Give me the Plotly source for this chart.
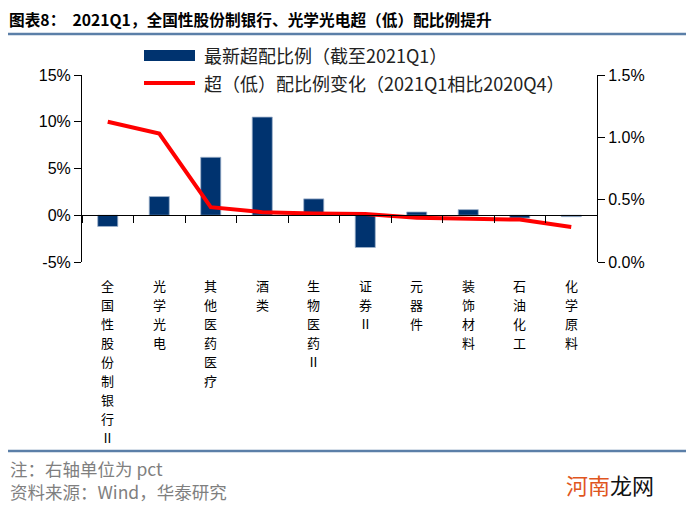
import plotly.graph_objects as go

categories = ["全国性股份制银行Ⅱ", "光学光电", "其他医药医疗", "酒类", "生物医药Ⅱ",
              "证券Ⅱ", "元器件", "装饰材料", "石油化工", "化学原料"]
overweight_2021q1 = [-1.2, 2.0, 6.2, 10.5, 1.75, -3.45, 0.35, 0.6, -0.3, -0.15]
change_vs_2020q4 = [1.125, 1.03, 0.44, 0.40, 0.39, 0.385, 0.355, 0.35, 0.34, 0.28]
left_ticks = [-5, 0, 5, 10, 15]
left_ticktext = ["-5%", "0%", "5%", "10%", "15%"]
right_ticks = [0.0, 0.5, 1.0, 1.5]
right_ticktext = ["0.0%", "0.5%", "1.0%", "1.5%"]

bar_name = "最新超配比例（截至2021Q1）"
line_name = "超（低）配比例变化（2021Q1相比2020Q4）"
title_text = "图表8：  2021Q1，全国性股份制银行、光学光电超（低）配比例提升"
note1 = "注：右轴单位为 pct"
note2 = "资料来源：Wind，华泰研究"

# the page body has an 8px margin, so the figure is 8px smaller and offset
OFF = 8
W, H = 699 - OFF, 518 - OFF
L, R, T, B = 82 - OFF, 102, 75 - OFF, 256
pw, ph = W - L - R, H - T - B


def px(x):
    return (x - OFF - L) / pw


def py(y):
    return (H - B - (y - OFF)) / ph


CJK = "Noto Sans CJK SC"
NUM = "Liberation Sans, Arial, sans-serif"
BAR_C = "#00336F"
LINE_C = "#FF0000"

fig = go.Figure()
fig.add_trace(go.Bar(x=categories, y=overweight_2021q1, name=bar_name,
                     marker=dict(color=BAR_C, line=dict(color="#9FB3CC", width=0.8)),
                     yaxis="y", showlegend=False))
fig.add_trace(go.Scatter(x=categories, y=change_vs_2020q4, name=line_name, mode="lines",
                         line=dict(color=LINE_C, width=4), yaxis="y2", showlegend=False))

fig.update_layout(
    width=W, height=H, autosize=False,
    margin=dict(l=L, r=R, t=T, b=B, autoexpand=False),
    paper_bgcolor="white", plot_bgcolor="white",
    bargap=0.61,
    showlegend=False,
    xaxis=dict(type="category", categoryorder="array", categoryarray=categories,
               anchor="free", position=0.25, automargin=False,
               showline=True, linecolor="#000000", linewidth=1,
               ticks="outside", ticklen=7, tickcolor="#000000", tickson="boundaries",
               showticklabels=False,
               showgrid=False, zeroline=False, fixedrange=True),
    yaxis=dict(range=[-5, 15], tickmode="array", tickvals=left_ticks, ticktext=left_ticktext,
               automargin=False,
               showline=True, linecolor="#000000", linewidth=1,
               ticks="outside", ticklen=7, tickcolor="#000000",
               tickfont=dict(family=NUM, size=16, color="#000000"),
               showgrid=False, zeroline=False),
    yaxis2=dict(range=[0, 1.5], tickmode="array", tickvals=right_ticks, ticktext=right_ticktext,
                overlaying="y", side="right", automargin=False,
                showline=True, linecolor="#000000", linewidth=1,
                ticks="outside", ticklen=7, tickcolor="#000000",
                tickfont=dict(family=NUM, size=16, color="#000000"),
                showgrid=False, zeroline=False),
)

shapes = [
    dict(type="line", xref="paper", yref="paper", x0=px(8), x1=px(686), y0=py(34), y1=py(34),
         line=dict(color="#5B7FA8", width=2.5)),
    dict(type="line", xref="paper", yref="paper", x0=px(8), x1=px(686), y0=py(451), y1=py(451),
         line=dict(color="#5B7FA8", width=2.5)),
    dict(type="rect", xref="paper", yref="paper", x0=px(144), x1=px(195), y0=py(61), y1=py(50),
         fillcolor=BAR_C, line=dict(width=0)),
    dict(type="line", xref="paper", yref="paper", x0=px(144), x1=px(195), y0=py(83), y1=py(83),
         line=dict(color=LINE_C, width=4)),
]

annotations = [
    dict(text="<b>" + title_text + "</b>", xref="paper", yref="paper", x=px(7), y=py(19.8),
         xanchor="left", yanchor="middle", showarrow=False,
         font=dict(family=CJK, size=15.7, color="#000000")),
    dict(text=bar_name, xref="paper", yref="paper", x=px(202), y=py(55),
         xanchor="left", yanchor="middle", showarrow=False,
         font=dict(family=CJK, size=18, color="#222222")),
    dict(text=line_name, xref="paper", yref="paper", x=px(202), y=py(83),
         xanchor="left", yanchor="middle", showarrow=False,
         font=dict(family=CJK, size=18, color="#222222")),
    dict(text=note1, xref="paper", yref="paper", x=px(8), y=py(468),
         xanchor="left", yanchor="middle", showarrow=False,
         font=dict(family=CJK, size=17.5, color="#7F7F7F")),
    dict(text=note2, xref="paper", yref="paper", x=px(8), y=py(491),
         xanchor="left", yanchor="middle", showarrow=False,
         font=dict(family=CJK, size=17.5, color="#7F7F7F")),
    dict(text="<span style='color:#E0561E'>河南</span>龙网", xref="paper", yref="paper",
         x=px(564), y=py(484), xanchor="left", yanchor="middle", showarrow=False,
         font=dict(family=CJK, size=22, color="#111111")),
]

# vertical category labels, one character per line
for cat in categories:
    for i, ch in enumerate(cat):
        annotations.append(dict(text=ch, xref="x", yref="paper", x=cat, y=py(285 + 19 * i),
                                xanchor="center", yanchor="middle", showarrow=False,
                                font=dict(family=CJK, size=13, color="#000000")))

fig.update_layout(shapes=shapes, annotations=annotations)
fig.write_html("out.html")
